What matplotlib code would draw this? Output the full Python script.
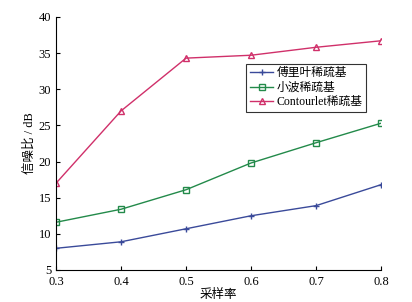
import matplotlib
matplotlib.use("Agg")
import matplotlib.pyplot as plt

plt.rcParams['font.family'] = ['Liberation Serif', 'Noto Sans CJK SC']
plt.rcParams['font.size'] = 9

# sampling rate and SNR (dB) per sparse basis
rates = [0.3, 0.4, 0.5, 0.6, 0.7, 0.8]
snr_fourier = [8.0, 8.9, 10.7, 12.5, 13.9, 16.8]
snr_wavelet = [11.6, 13.4, 16.1, 19.8, 22.6, 25.3]
snr_contourlet = [17.0, 27.0, 34.3, 34.7, 35.8, 36.7]
labels = ['傅里叶稀疏基', '小波稀疏基', 'Contourlet稀疏基']

fig = plt.figure(figsize=(4.12, 3.02), dpi=100)
ax = fig.add_axes([0.136, 0.106, 0.789, 0.838])

ax.plot(rates, snr_fourier, color='#3a4a9a', marker='+', markersize=5, lw=1, label=labels[0])
ax.plot(rates, snr_wavelet, color='#238a4a', marker='s', markersize=5, mfc='none', lw=1, label=labels[1])
ax.plot(rates, snr_contourlet, color='#d0306a', marker='^', markersize=5, mfc='none', lw=1, label=labels[2])

ax.set_xlim(0.3, 0.8)
ax.set_ylim(5, 40)
ax.set_xticks(rates)
ax.set_yticks(range(5, 41, 5))
ax.spines['top'].set_visible(False)
ax.spines['right'].set_visible(False)
ax.tick_params(direction='in', length=3)
ax.tick_params(axis='x', pad=4)
ax.set_xlabel('采样率', labelpad=1)
ax.set_ylabel('信噪比 / dB', labelpad=2)

leg = ax.legend(loc='upper left', bbox_to_anchor=(0.585, 0.815), fancybox=False,
                edgecolor='black', handlelength=2.0, borderpad=0.3, labelspacing=0.2,
                handletextpad=0.3, borderaxespad=0, prop={'size': 8.5})
leg.get_frame().set_linewidth(0.8)

fig.savefig('out.png', dpi=100)
